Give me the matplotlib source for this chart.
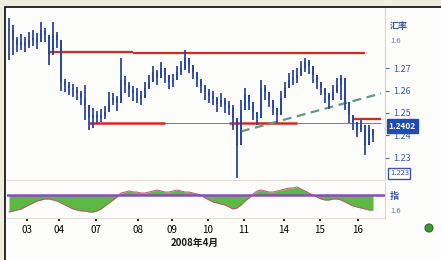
import numpy as np
import matplotlib
matplotlib.use("Agg")
import matplotlib.pyplot as plt
from matplotlib.patches import Rectangle, Ellipse

plt.rcParams['font.family'] = ['Noto Sans CJK SC', 'DejaVu Sans']

# ---------------- data ----------------
closes = [1.2869, 1.2824, 1.2802, 1.2816, 1.2802, 1.2824, 1.2833, 1.2816, 1.2869, 1.2847,
          1.2758, 1.2847, 1.2824, 1.2638, 1.2624, 1.2611, 1.2602, 1.2589, 1.2567, 1.2536,
          1.2478, 1.2491, 1.2478, 1.2491, 1.2504, 1.2558, 1.2567, 1.2544, 1.2647, 1.2624,
          1.2602, 1.2589, 1.2580, 1.2567, 1.2611, 1.2638, 1.2682, 1.2656, 1.2700, 1.2669,
          1.2638, 1.2647, 1.2682, 1.2700, 1.2744, 1.2713, 1.2682, 1.2647, 1.2620, 1.2593,
          1.2576, 1.2567, 1.2540, 1.2558, 1.2536, 1.2522, 1.2478, 1.2358, 1.2513, 1.2580,
          1.2549, 1.2504, 1.2478, 1.2611, 1.2593, 1.2558, 1.2522, 1.2491, 1.2567, 1.2611,
          1.2647, 1.2656, 1.2669, 1.2700, 1.2727, 1.2709, 1.2669, 1.2638, 1.2611, 1.2580,
          1.2558, 1.2593, 1.2624, 1.2656, 1.2549, 1.2491, 1.2460, 1.2424, 1.2447, 1.2358,
          1.2424, 1.2402]
highs = [1.2922, 1.2891, 1.2840, 1.2850, 1.2838, 1.2860, 1.2870, 1.2855, 1.2904, 1.2880,
         1.2824, 1.2904, 1.2860, 1.2660, 1.2650, 1.2640, 1.2630, 1.2615, 1.2600, 1.2624,
         1.2536, 1.2522, 1.2510, 1.2520, 1.2530, 1.2593, 1.2590, 1.2575, 1.2744, 1.2665,
         1.2640, 1.2620, 1.2610, 1.2600, 1.2640, 1.2670, 1.2710, 1.2690, 1.2725, 1.2700,
         1.2665, 1.2675, 1.2710, 1.2730, 1.2780, 1.2745, 1.2710, 1.2680, 1.2650, 1.2625,
         1.2605, 1.2600, 1.2570, 1.2590, 1.2565, 1.2555, 1.2536, 1.2380, 1.2558, 1.2611,
         1.2580, 1.2535, 1.2505, 1.2647, 1.2625, 1.2590, 1.2555, 1.2520, 1.2600, 1.2640,
         1.2680, 1.2690, 1.2700, 1.2730, 1.2744, 1.2735, 1.2700, 1.2670, 1.2640, 1.2610,
         1.2590, 1.2625, 1.2655, 1.2669, 1.2580, 1.2520, 1.2490, 1.2447, 1.2470, 1.2424,
         1.2447, 1.2430]
lows = [1.2736, 1.2758, 1.2770, 1.2780, 1.2770, 1.2790, 1.2800, 1.2785, 1.2824, 1.2815,
        1.2713, 1.2802, 1.2790, 1.2600, 1.2595, 1.2580, 1.2570, 1.2560, 1.2535, 1.2469,
        1.2424, 1.2433, 1.2450, 1.2460, 1.2475, 1.2522, 1.2535, 1.2510, 1.2580, 1.2590,
        1.2570, 1.2555, 1.2545, 1.2535, 1.2580, 1.2605, 1.2650, 1.2625, 1.2665, 1.2635,
        1.2605, 1.2615, 1.2650, 1.2670, 1.2691, 1.2680, 1.2650, 1.2615, 1.2590, 1.2560,
        1.2545, 1.2535, 1.2505, 1.2525, 1.2500, 1.2490, 1.2424, 1.2211, 1.2478, 1.2536,
        1.2515, 1.2470, 1.2445, 1.2558, 1.2560, 1.2525, 1.2490, 1.2455, 1.2530, 1.2580,
        1.2615, 1.2625, 1.2635, 1.2665, 1.2682, 1.2675, 1.2635, 1.2605, 1.2580, 1.2545,
        1.2520, 1.2560, 1.2590, 1.2558, 1.2515, 1.2455, 1.2425, 1.2393, 1.2415, 1.2313,
        1.2393, 1.2370]
osc = [-17, -16, -15, -14, -12, -10, -8, -6, -5, -4, -4, -5, -6,
       -8, -10, -12, -14, -15, -16, -16, -17, -17, -16,
       -14, -11, -8, -5, -2, 2,
       3, 4, 3, 3, 2, 2, 3, 4, 5, 4, 3, 3, 4, 5, 4, 3, 3, 2, 1, 0,
       -3, -5, -7, -8, -9, -10, -12, -14, -13, -10, -6,
       -3, 1, 4, 5, 4,
       3, 3, 4, 5, 6, 7, 7, 8, 6, 4, 2, 0, -2,
       -4, -5, -5, -4, -4, -5, -7, -9, -11, -12, -13, -14, -15, -15]

ytick_vals = [1.23, 1.24, 1.25, 1.26, 1.27]
ytick_labels = ['1.23', '1.24', '1.25', '1.26', '1.27']
day_labels = ['03', '04', '07', '08', '09', '10', '11', '14', '15', '16']
day_pos = [4.5, 12.5, 21.75, 32.25, 40.75, 49.75, 58.75, 68.75, 77.75, 87.25]
month_label = '2008年4月'

resist_a = (10, 31, 1.2773)
resist_b = (31, 89, 1.2767)
support = (20, 93, 1.2456)
support_thick = [(20, 39), (55, 72)]
support2 = (86, 93, 1.2473)
trend = ((58, 1.2418), (93, 1.2587))

# ---------------- figure ----------------
W, H = 441, 260
fig = plt.figure(figsize=(W / 100, H / 100), dpi=100)
fig.patch.set_facecolor('#efece0')

def px(l, t, r, b):
    return [l / W, 1 - b / H, (r - l) / W, (b - t) / H]

bg = fig.add_axes([0, 0, 1, 1], zorder=-5)
bg.set_xlim(0, W)
bg.set_ylim(H, 0)
bg.axis('off')
bg.add_patch(Rectangle((5, 7), W, H, facecolor='#fdfdfb', edgecolor='#1a1a1a',
                       linewidth=1.3))
bg.add_patch(Ellipse((429, 228), 8, 8, facecolor='#3d9a36', edgecolor='#2a6a26',
                     linewidth=0.8))

ax = fig.add_axes(px(7, 8, 385, 180))
ax2 = fig.add_axes(px(7, 182, 385, 218))
for a in (ax, ax2):
    a.set_facecolor('none')
    for s in a.spines.values():
        s.set_visible(False)
    a.set_xlim(-0.5, 94)

n = len(closes)
x = np.arange(n)
opens = [closes[0]] + closes[:-1]
blue = '#2a47a8'
ax.vlines(x, lows, highs, color=blue, linewidth=1.3, zorder=3)
bot = np.minimum(opens, closes)
hgt = np.abs(np.array(closes) - np.array(opens))
ax.bar(x, np.maximum(hgt, 0.0004), bottom=bot, width=0.65, color=blue, zorder=3)

red = '#d42a20'
ax.hlines(resist_a[2], resist_a[0], resist_a[1], color=red, linewidth=1.6, zorder=2)
ax.hlines(resist_b[2], resist_b[0], resist_b[1], color=red, linewidth=1.6, zorder=2)
ax.hlines(support[2], support[0], support[1], color='#e05050', linewidth=0.7, zorder=2)
for s0, s1 in support_thick:
    ax.hlines(support[2], s0, s1, color=red, linewidth=1.8, zorder=2)
ax.hlines(support2[2], support2[0], support2[1], color=red, linewidth=1.6, zorder=2)
ax.plot([trend[0][0], trend[1][0]], [trend[0][1], trend[1][1]], color='#5e9a80',
        linewidth=1.6, linestyle=(0, (4, 2.5)), zorder=2)

ax.set_ylim(1.2202, 1.2967)
ax.yaxis.tick_right()
ax.set_yticks(ytick_vals)
ax.set_yticklabels(ytick_labels)
ax.tick_params(axis='y', length=3, width=0.8, color='#4a60b0', labelcolor='#3a55aa',
               labelsize=6.5, pad=3)
ax.set_xticks([])
ax.spines['right'].set_visible(True)
ax.spines['right'].set_color('#dcd4c4')
ax.spines['bottom'].set_visible(True)
ax.spines['bottom'].set_color('#e4ddd0')

# current price box
ax.annotate(f'{closes[-1]:.4f}', xy=(1.01, closes[-1] + 0.0040),
            xycoords=('axes fraction', 'data'), fontsize=6, color='white',
            va='center', ha='left', fontweight='bold',
            bbox=dict(boxstyle='square,pad=0.25', facecolor='#1e4cb0', edgecolor='#1e4cb0'),
            annotation_clip=False, zorder=5)
ax.annotate('1.223', xy=(1.013, 1.2231), xycoords=('axes fraction', 'data'),
            fontsize=5.5, color='#3a55aa', va='center', ha='left',
            bbox=dict(boxstyle='square,pad=0.2', facecolor='white', edgecolor='#3a55aa',
                      linewidth=1), annotation_clip=False)

fig.text(390 / W, 1 - 27 / H, '汇率', fontsize=6.5, color='#3a55aa', va='center',
         fontweight='bold')
fig.text(390 / W, 1 - 41 / H, '1.6', fontsize=5.5, color='#6a7ab0', va='center')

# oscillator panel
ax2.fill_between(x, 0, osc, color='#5cba44', linewidth=0, zorder=2)
ax2.plot(x, osc, color='#c8507a', linewidth=0.7, zorder=3)
ax2.axhline(0, color='#8a4cc0', linewidth=1.8, zorder=4)
ax2.set_ylim(-23, 13)
ax2.set_yticks([])
ax2.set_xticks(day_pos)
ax2.set_xticklabels(day_labels)
ax2.tick_params(axis='x', length=2, width=1.5, color='#222222', labelsize=7, pad=3)
ax2.spines['right'].set_visible(True)
ax2.spines['right'].set_color('#dcd4c4')
ax2.spines['bottom'].set_visible(True)
ax2.spines['bottom'].set_color('#e4ddd0')

fig.text(390 / W, 1 - 197 / H, '指', fontsize=6.5, color='#3a55aa', va='center',
         fontweight='bold')
fig.text(390 / W, 1 - 211 / H, '1.6', fontsize=5.5, color='#6a7ab0', va='center')
fig.text(195 / W, 1 - 243 / H, month_label, fontsize=7, color='#1a1a1a',
         ha='center', va='center', fontweight='bold')

fig.savefig('out.png', dpi=100, facecolor=fig.get_facecolor())
